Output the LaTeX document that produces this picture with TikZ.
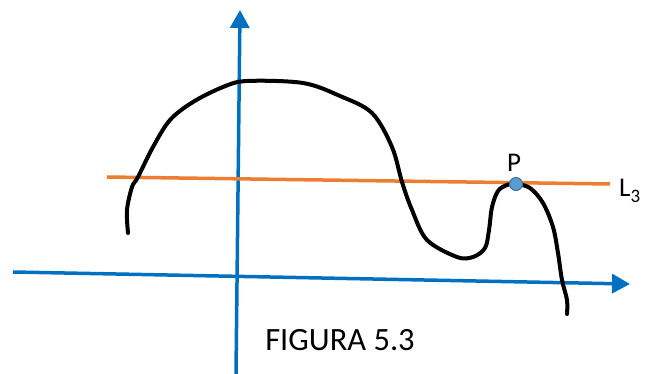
\documentclass[tikz,border=0pt]{standalone}
\usepackage{fontspec}
\setmainfont{Carlito}
\usetikzlibrary{arrows.meta}
\definecolor{axisblue}{HTML}{0070C0}
\definecolor{lineorange}{HTML}{ED7D31}
\definecolor{dotblue}{HTML}{5B9BD5}
\definecolor{dotedge}{HTML}{41719C}
\tikzset{
  axis/.style={axisblue,line width=3.5pt,-{Triangle[length=18pt,width=19pt]}},
  graph/.style={black,line width=4pt,line cap=round,line join=round},
  label/.style={inner sep=0pt,font=\fontsize{27}{27}\selectfont}
}
\begin{document}
\begin{tikzpicture}[x=1pt,y=-1pt]
            \useasboundingbox (0,0) rectangle (649,374);
            \coordinate (XL) at (13,272);
            \coordinate (XR) at (630,284);
            \coordinate (YB) at (236,374);
            \coordinate (YT) at (240,10);
            \coordinate (LL) at (107,177);
            \coordinate (LR) at (610,184);
            \coordinate (P) at (516,184);
            \draw[axis] (XL)--(XR);
            \draw[axis] (YB)--(YT);
            \draw[lineorange,line width=3.5pt] (LL)--(LR);
            \draw[graph] plot[smooth,tension=0.55] coordinates {
                (128,233) (127,210) (132,187) (138,177) (153,147) (170,120)
                (193,102) (223,87) (247,81) (303,83) (340,96) (372,113)
                (392,147) (402,182) (412,210) (427,240) (457,257) (473,257)
                (485,248) (489,230) (492,207) (498,191) (507,185) (516,184)
                (530,188) (543,203) (553,227) (558,253) (562,280) (567,300)
                (567,314)};
            \fill[dotblue,draw=dotedge,line width=1pt] (P) circle[radius=6.5];
            \node[label,anchor=south] (labP) at (514,172) {P};
            \node[label,anchor=base west] (labL) at (619,197) {L\raisebox{-0.22em}{\fontsize{19}{19}\selectfont 3}};
            \node[inner sep=0pt,anchor=base,font=\fontsize{32.5}{32.5}\selectfont] (cap) at (340,351) {FIGURA 5.3};
        \end{tikzpicture}
\end{document}
